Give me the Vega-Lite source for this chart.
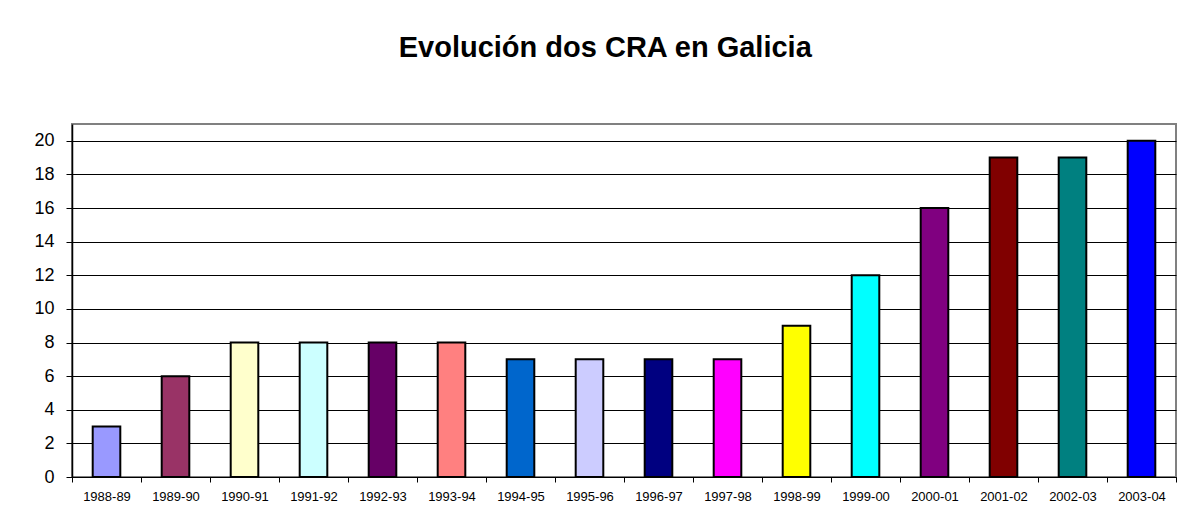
{
  "$schema": "https://vega.github.io/schema/vega-lite/v6.json",
  "width": 1104,
  "height": 353,
  "autosize": {"type": "none"},
  "padding": {"left": 72, "top": 124, "right": 16, "bottom": 47},
  "background": "white",
  "title": {
    "text": "Evolución dos CRA en Galicia",
    "font": "Liberation Sans",
    "fontSize": 29,
    "fontWeight": "bold",
    "color": "#000000",
    "baseline": "alphabetic",
    "offset": 38,
    "anchor": "middle",
    "frame": "bounds"
  },
  "data": {
    "values": [
      {"curso": "1988-89", "cra": 3, "color": "#9999FF"},
      {"curso": "1989-90", "cra": 6, "color": "#993366"},
      {"curso": "1990-91", "cra": 8, "color": "#FFFFCC"},
      {"curso": "1991-92", "cra": 8, "color": "#CCFFFF"},
      {"curso": "1992-93", "cra": 8, "color": "#660066"},
      {"curso": "1993-94", "cra": 8, "color": "#FF8080"},
      {"curso": "1994-95", "cra": 7, "color": "#0066CC"},
      {"curso": "1995-96", "cra": 7, "color": "#CCCCFF"},
      {"curso": "1996-97", "cra": 7, "color": "#000080"},
      {"curso": "1997-98", "cra": 7, "color": "#FF00FF"},
      {"curso": "1998-99", "cra": 9, "color": "#FFFF00"},
      {"curso": "1999-00", "cra": 12, "color": "#00FFFF"},
      {"curso": "2000-01", "cra": 16, "color": "#800080"},
      {"curso": "2001-02", "cra": 19, "color": "#800000"},
      {"curso": "2002-03", "cra": 19, "color": "#008080"},
      {"curso": "2003-04", "cra": 20, "color": "#0000FF"}
    ]
  },
  "mark": {"type": "bar", "stroke": "#000000", "strokeWidth": 2, "width": {"band": 0.4}},
  "encoding": {
    "x": {
      "field": "curso",
      "type": "nominal",
      "sort": null,
      "scale": {"paddingInner": 0, "paddingOuter": 0},
      "axis": {
        "title": null,
        "labelAngle": 0,
        "labelFont": "Liberation Sans",
        "labelFontSize": 13,
        "labelColor": "#000000",
        "labelPadding": 8,
        "tickBand": "extent",
        "tickSize": 5,
        "tickColor": "#000000",
        "domainColor": "#000000",
        "domainWidth": 1,
        "grid": false
      }
    },
    "y": {
      "field": "cra",
      "type": "quantitative",
      "scale": {"domain": [0, 21], "nice": false},
      "axis": {
        "title": null,
        "values": [0, 2, 4, 6, 8, 10, 12, 14, 16, 18, 20],
        "labelFont": "Liberation Sans",
        "labelFontSize": 18,
        "labelColor": "#000000",
        "labelPadding": 12,
        "tickSize": 6,
        "tickColor": "#000000",
        "domainColor": "#000000",
        "domainWidth": 1.5,
        "grid": true,
        "gridColor": "#000000",
        "gridWidth": 1,
        "gridOpacity": 1
      }
    },
    "fill": {"field": "color", "type": "nominal", "scale": null, "legend": null}
  },
  "config": {
    "view": {"stroke": "#808080", "strokeWidth": 2}
  }
}
